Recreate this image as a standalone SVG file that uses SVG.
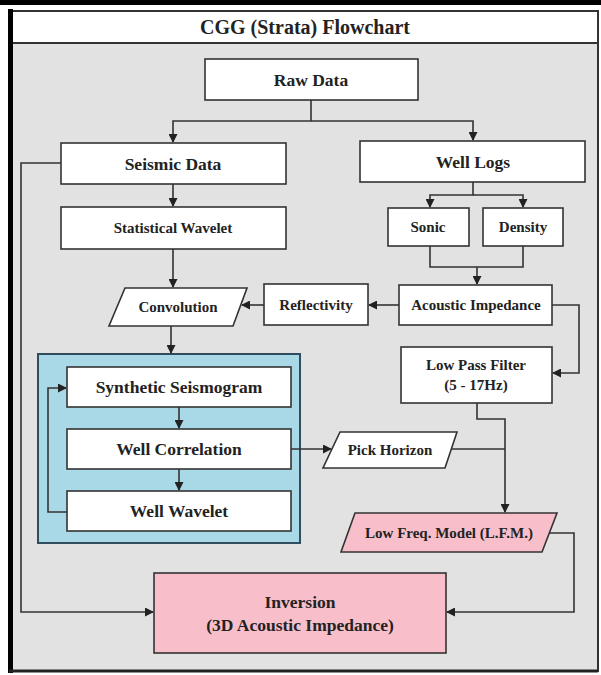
<svg xmlns="http://www.w3.org/2000/svg" width="601" height="675" viewBox="0 0 601 675">
<style>
.n{fill:#fff;stroke:#333;stroke-width:1.6}
.p{fill:#f8bfcb;stroke:#333;stroke-width:1.6}
.t{font-family:"Liberation Serif","Times New Roman",serif;font-weight:bold;fill:#222;text-anchor:middle;dominant-baseline:central}
.big{font-size:17.5px}
.sm{font-size:15px}
.c{fill:none;stroke:#333;stroke-width:1.6}
</style>
<defs>
<marker id="ah" markerUnits="userSpaceOnUse" markerWidth="9" markerHeight="9" refX="8" refY="4.5" orient="auto">
<path d="M0,0 L9,4.5 L0,9 z" fill="#222"/>
</marker>
</defs>
<rect x="0" y="0" width="601" height="675" fill="#fff"/>
<rect x="0" y="0" width="601" height="5" fill="#000"/>
<g id="frame">
<rect x="11" y="11" width="587" height="660" fill="#e2e2e2" stroke="#333" stroke-width="2"/>
<rect x="11" y="11" width="587" height="32" fill="#fff" stroke="#333" stroke-width="2"/>
<line x1="10.5" y1="9" x2="10.5" y2="673" stroke="#000" stroke-width="5"/>
<line x1="9" y1="671" x2="598" y2="671" stroke="#222" stroke-width="3"/>
<text class="t" x="305" y="27" font-size="20" style="font-weight:bold">CGG (Strata) Flowchart</text>
</g>
<g id="blue-group">
<rect x="38" y="354" width="262" height="189" fill="#a9d8e6" stroke="#2f4d5c" stroke-width="2"/>
</g>
<g id="connectors">
<path class="c" d="M311,100 V121 H173 V142" marker-end="url(#ah)"/>
<path class="c" d="M311,121 H473 V140" marker-end="url(#ah)"/>
<path class="c" d="M173,184 V206" marker-end="url(#ah)"/>
<path class="c" d="M173,249 V287" marker-end="url(#ah)"/>
<path class="c" d="M171,326 V353" marker-end="url(#ah)"/>
<path class="c" d="M61,163 H21 V612 H153" marker-end="url(#ah)"/>
<path class="c" d="M473,182 V195 H430 V207" marker-end="url(#ah)"/>
<path class="c" d="M473,195 H523 V207" marker-end="url(#ah)"/>
<path class="c" d="M430,246 V267 H523 V246"/>
<path class="c" d="M477,267 V284" marker-end="url(#ah)"/>
<path class="c" d="M399,305 H369" marker-end="url(#ah)"/>
<path class="c" d="M264,305 H242" marker-end="url(#ah)"/>
<path class="c" d="M552,305 H579 V373 H553" marker-end="url(#ah)"/>
<path class="c" d="M477,403 V419 H505 V512" marker-end="url(#ah)"/>
<path class="c" d="M451,449 H505"/>
<path class="c" d="M291,449 H331" marker-end="url(#ah)"/>
<path class="c" d="M179,407 V428" marker-end="url(#ah)"/>
<path class="c" d="M179,469 V490" marker-end="url(#ah)"/>
<path class="c" d="M67,512 H48 V388 H66" marker-end="url(#ah)"/>
<path class="c" d="M549,533 H574 V612 H447" marker-end="url(#ah)"/>
</g>
<g id="raw-data"><rect class="n" x="205" y="59" width="213" height="41"/><text class="t big" x="311" y="80">Raw Data</text></g>
<g id="seismic-data"><rect class="n" x="61" y="143" width="225" height="41"/><text class="t big" x="173" y="164">Seismic Data</text></g>
<g id="statistical-wavelet"><rect class="n" x="61" y="207" width="225" height="42"/><text class="t sm" x="173" y="228">Statistical Wavelet</text></g>
<g id="convolution"><polygon class="n" points="125,288 247,288 233,326 109,326"/><text class="t sm" x="178" y="307">Convolution</text></g>
<g id="reflectivity"><rect class="n" x="264" y="284" width="104" height="41"/><text class="t sm" x="316" y="305">Reflectivity</text></g>
<g id="well-logs"><rect class="n" x="360" y="141" width="225" height="41"/><text class="t big" x="473" y="162">Well Logs</text></g>
<g id="sonic"><rect class="n" x="388" y="208" width="81" height="38"/><text class="t sm" x="428" y="227">Sonic</text></g>
<g id="density"><rect class="n" x="483" y="208" width="80" height="38"/><text class="t sm" x="523" y="227">Density</text></g>
<g id="acoustic-impedance"><rect class="n" x="399" y="285" width="153" height="40"/><text class="t sm" x="476" y="305">Acoustic Impedance</text></g>
<g id="low-pass-filter"><rect class="n" x="401" y="347" width="151" height="56"/><text class="t sm" x="476" y="365">Low Pass Filter</text><text class="t sm" x="476" y="385">(5 - 17Hz)</text></g>
<g id="synthetic-seismogram"><rect class="n" x="67" y="367" width="224" height="40"/><text class="t big" x="179" y="387">Synthetic Seismogram</text></g>
<g id="well-correlation"><rect class="n" x="67" y="429" width="224" height="40"/><text class="t big" x="179" y="449">Well Correlation</text></g>
<g id="well-wavelet"><rect class="n" x="67" y="491" width="224" height="40"/><text class="t big" x="179" y="511">Well Wavelet</text></g>
<g id="pick-horizon"><polygon class="n" points="340,432 457,432 445,468 323,468"/><text class="t sm" x="390" y="450">Pick Horizon</text></g>
<g id="lfm"><polygon class="p" points="355,513 557,513 542,552 341,552"/><text class="t sm" x="449" y="533">Low Freq. Model (L.F.M.)</text></g>
<g id="inversion"><rect class="p" x="154" y="573" width="292" height="80"/><text class="t big" x="300" y="602">Inversion</text><text class="t big" x="300" y="625">(3D Acoustic Impedance)</text></g>
</svg>
